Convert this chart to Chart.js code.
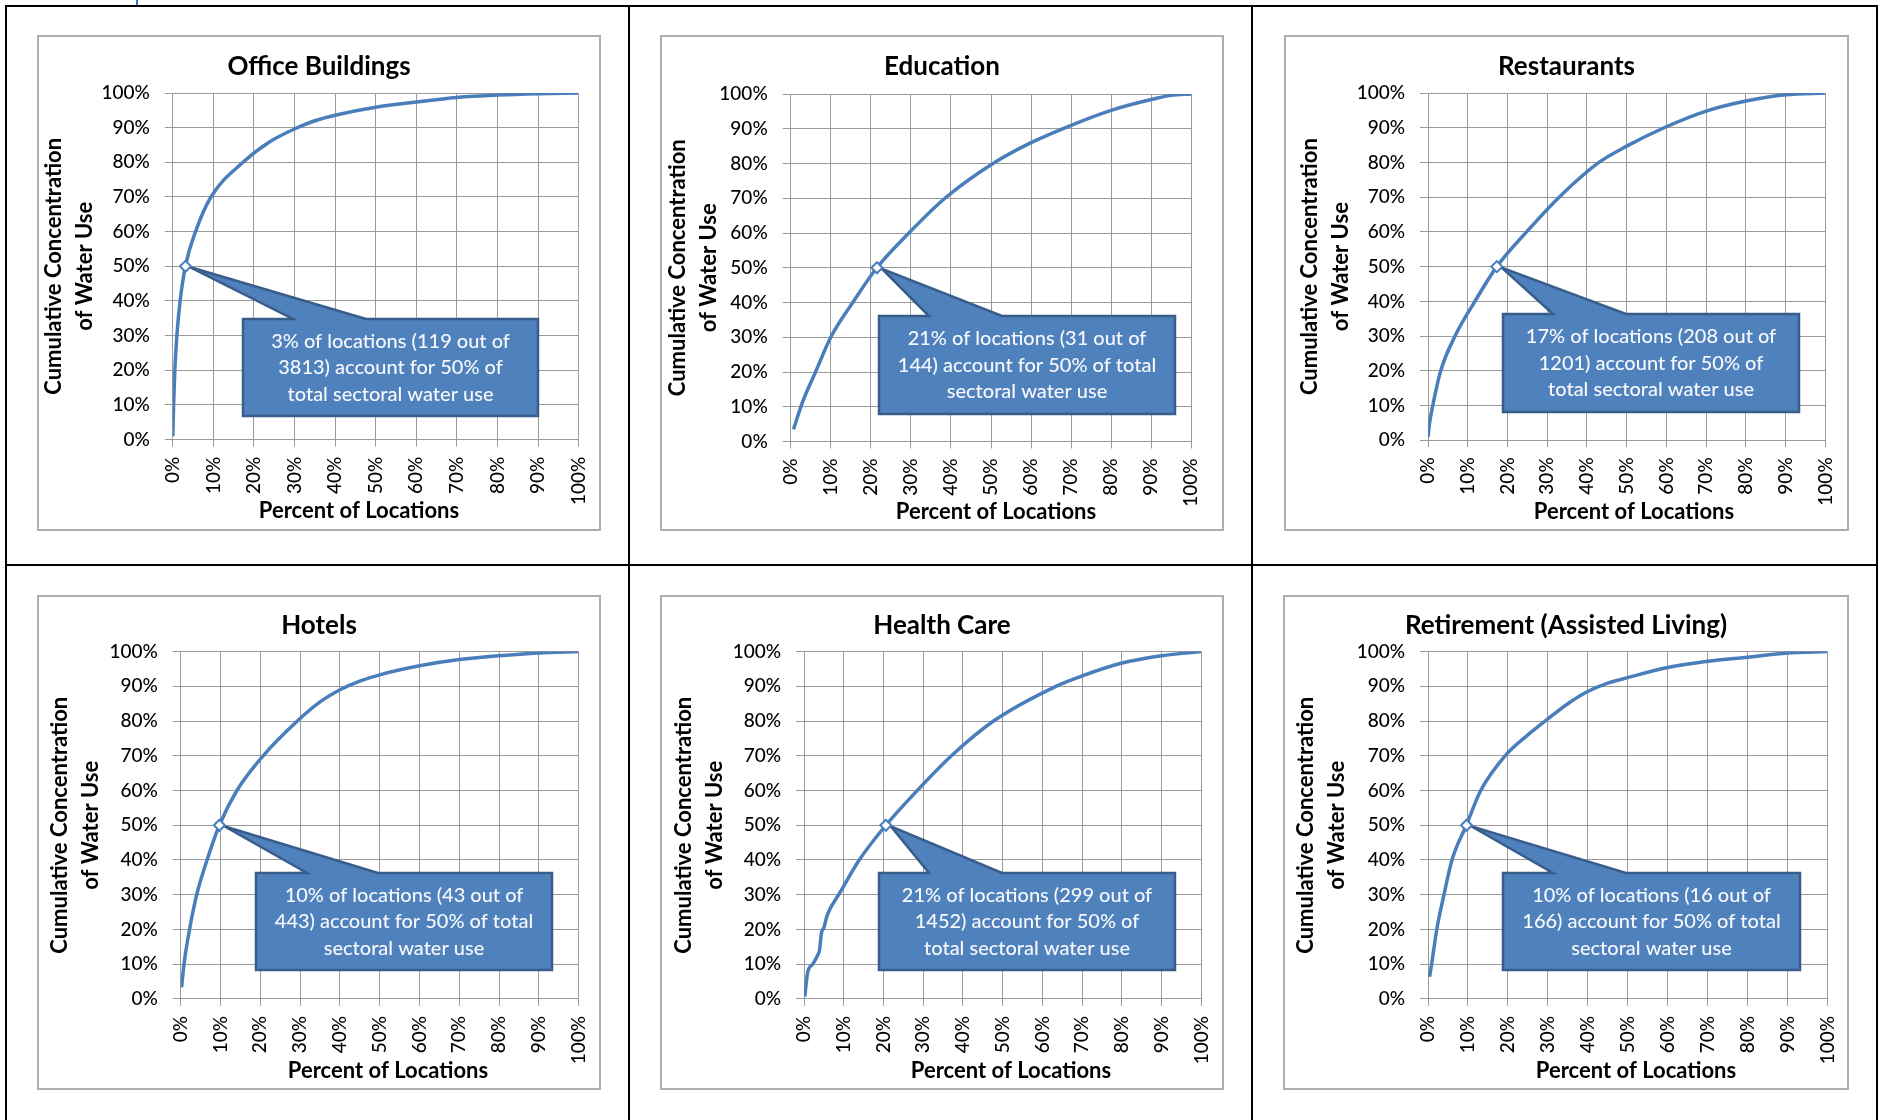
<!DOCTYPE html>
<html>
<head>
<meta charset="utf-8">
<title>Cumulative concentration of water use by sector</title>
<script src="https://cdn.jsdelivr.net/npm/chart.js@4.4.1/dist/chart.umd.min.js"></script>
<style>
  html, body { margin: 0; padding: 0; background: #fff; }
  body { width: 1879px; height: 1120px; position: relative; overflow: hidden; font-family: Lato, sans-serif; }
  .rule { position: absolute; background: #000; }
  .frame { position: absolute; box-sizing: border-box; border: 2px solid #adadad; pointer-events: none; }
  canvas { position: absolute; }
</style>
</head>
<body>
<div class="rule" style="left:136px;top:0;width:2px;height:5px;background:#2a7ad4"></div>
<div class="rule" style="left:5px;top:5px;width:1873px;height:2px"></div>
<div class="rule" style="left:5px;top:5px;width:2px;height:1115px"></div>
<div class="rule" style="left:628px;top:5px;width:2px;height:1115px"></div>
<div class="rule" style="left:1251px;top:5px;width:2px;height:1115px"></div>
<div class="rule" style="left:1876px;top:5px;width:2px;height:1115px"></div>
<div class="rule" style="left:5px;top:564px;width:1873px;height:2px"></div>
<script>
// Sector names (one chart each)
const sectorTitles = ['Office Buildings', 'Education', 'Restaurants', 'Hotels', 'Health Care', 'Retirement (Assisted Living)'];

// Cumulative share of sector water use (%) against share of locations (%), largest users first
const officeX  = [0, 0.2, 0.5, 1.0, 1.8, 3.1, 5.6, 9.4, 17.3, 24, 30.7, 35, 40, 50, 60, 70, 80, 90, 100];
const officeY  = [1, 10, 20, 30, 40, 50, 60, 70, 80, 86, 90, 92, 93.6, 95.9, 97.4, 98.7, 99.4, 99.8, 100];

const eduX     = [0.7, 3, 6.2, 10, 15.5, 21.5, 29.5, 38.5, 50.5, 60, 70, 80, 90, 95, 100];
const eduY     = [3.5, 11.5, 20, 30, 40, 50, 60, 70, 80, 86, 91, 95.3, 98.4, 99.6, 100];

const restX    = [0, 0.4, 1.2, 3.2, 6.8, 11.8, 17.3, 24.8, 33, 43, 50, 59.4, 70, 80, 90, 100];
const restY    = [1, 5, 10, 20, 30, 40, 50, 60, 70, 80, 84.7, 90, 94.8, 97.7, 99.5, 100];

const hotelX   = [0.2, 0.8, 2.2, 4.0, 6.6, 9.7, 14.1, 20.7, 29.3, 35, 40, 45, 50, 60, 70, 80, 90, 100];
const hotelY   = [3.3, 10, 20, 30, 40, 50, 60, 70, 80, 85.5, 89, 91.5, 93.3, 95.9, 97.7, 98.8, 99.6, 100];

const healthX  = [0.2, 0.9, 2.2, 3.4, 3.9, 4.4, 5.0, 5.8, 9.0, 13.9, 20.6, 28.5, 37.1, 47.7, 63.4, 70, 80, 90, 100];
const healthY  = [0.7, 7.5, 10, 12.5, 14, 19, 20.5, 24, 30.5, 40, 50, 60, 70, 80, 90, 93, 96.7, 98.8, 100];

const retireX  = [0.4, 0.9, 2.2, 4.0, 6.0, 9.6, 13.2, 19.3, 25, 30, 35, 40, 45, 50, 60, 70, 80, 90, 100];
const retireY  = [6.4, 10, 20, 30, 40, 50, 60, 70, 76, 80.6, 85, 88.5, 90.9, 92.5, 95.4, 97.2, 98.4, 99.6, 100];

const seriesX = [officeX, eduX, restX, hotelX, healthX, retireX];
const seriesY = [officeY, eduY, restY, hotelY, healthY, retireY];

// Locations that together account for half of each sector's water use
const halfCounts   = [119, 31, 208, 43, 299, 16];
const sectorTotals = [3813, 144, 1201, 443, 1452, 166];
const halfSharePct = [3, 21, 17, 10, 21, 10];
const halfWaterPct = 50;

// Page placement of each panel: chart frame, plot area, captions, callout box and its wedge (px)
const panels = [
  { box: [37, 35, 601, 531],     plot: [172.8, 93, 578.6, 439.6],    titleY: 32, yTitlePad: 1.5, xTitle: [359, 511],
    callout: [243, 319, 538, 416],   wedge: [293, 366] },
  { box: [660, 35, 1224, 531],   plot: [790.7, 94, 1191.3, 441.5],   titleY: 32, yTitlePad: 2,   xTitle: [996, 512],
    callout: [879, 316, 1175, 414],  wedge: [929, 1002] },
  { box: [1284, 35, 1849, 531],  plot: [1428, 93, 1825.4, 440.3],    titleY: 32, yTitlePad: 10,  xTitle: [1634, 512],
    callout: [1503, 314, 1799, 412], wedge: [1553, 1626] },
  { box: [37, 595, 601, 1090],   plot: [180.8, 651.6, 578.6, 998.9], titleY: 31, yTitlePad: 7.5, xTitle: [388, 1071],
    callout: [256, 873, 552, 970],   wedge: [307, 378] },
  { box: [660, 595, 1224, 1090], plot: [804, 651.6, 1201.4, 998.9],  titleY: 31, yTitlePad: 8.5, xTitle: [1011, 1071],
    callout: [879, 873, 1175, 970],  wedge: [929, 1002] },
  { box: [1283, 595, 1849, 1090],plot: [1428, 651.6, 1827.4, 998.9], titleY: 31, yTitlePad: 7.5, xTitle: [1636, 1071],
    callout: [1503, 873, 1800, 970], wedge: [1553, 1626] }
];

const FONT = 'Lato';
const LINE_BLUE = '#4a7ebb';
const GRID = '#9a9a9a';

function wrapWords(ctx, text, maxWidth) {
  const words = text.split(' ');
  const lines = [];
  let cur = '';
  for (const w of words) {
    const trial = cur ? cur + ' ' + w : w;
    if (cur && ctx.measureText(trial).width > maxWidth) {
      lines.push(cur);
      cur = w;
    } else {
      cur = trial;
    }
  }
  if (cur) lines.push(cur);
  return lines;
}

// Callout box with a wedge pointing at the half-of-use point
const calloutPlugin = {
  id: 'halfCallout',
  afterDatasetDraw(chart, args, opts) {
    if (args.index !== 1) return;
    const ctx = chart.ctx;
    const xs = chart.scales.x, ys = chart.scales.y;
    const tipX = xs.getPixelForValue(opts.pointX) + 5;
    const tipY = ys.getPixelForValue(opts.pointY) + 1;
    const [l, t, r, b] = opts.rect;
    const [w1, w2] = opts.wedge;
    ctx.save();
    ctx.beginPath();
    ctx.moveTo(l, t);
    ctx.lineTo(w1, t);
    ctx.lineTo(tipX, tipY);
    ctx.lineTo(w2, t);
    ctx.lineTo(r, t);
    ctx.lineTo(r, b);
    ctx.lineTo(l, b);
    ctx.closePath();
    ctx.fillStyle = '#4f81bd';
    ctx.fill();
    ctx.lineWidth = 2.5;
    ctx.lineJoin = 'miter';
    ctx.strokeStyle = '#385d8a';
    ctx.stroke();

    ctx.font = '500 20px ' + FONT;
    ctx.fillStyle = '#f6f8fb';
    ctx.textAlign = 'center';
    ctx.textBaseline = 'middle';
    const lines = wrapWords(ctx, opts.text, (r - l) - 34);
    const lh = 26.5;
    const cx = (l + r) / 2;
    const cy = (t + b) / 2 + 0.5;
    lines.forEach((s, k) => ctx.fillText(s, cx, cy + (k - (lines.length - 1) / 2) * lh));
    ctx.restore();
  }
};

// Horizontal axis caption
const xCaptionPlugin = {
  id: 'xCaption',
  afterDraw(chart, args, opts) {
    const ctx = chart.ctx;
    ctx.save();
    ctx.font = 'bold 22px ' + FONT;
    ctx.fillStyle = '#000';
    ctx.textAlign = 'center';
    ctx.textBaseline = 'middle';
    ctx.fillText(opts.text, opts.x, opts.y);
    ctx.restore();
  }
};

function buildPanel(i) {
  const p = panels[i];
  const [bl, bt, br, bb] = p.box;
  const w = br - bl, h = bb - bt;
  const canvas = document.createElement('canvas');
  canvas.width = w; canvas.height = h;
  canvas.style.left = bl + 'px'; canvas.style.top = bt + 'px';
  canvas.style.width = w + 'px'; canvas.style.height = h + 'px';
  document.body.appendChild(canvas);
  const frame = document.createElement('div');
  frame.className = 'frame';
  frame.style.left = bl + 'px'; frame.style.top = bt + 'px';
  frame.style.width = w + 'px'; frame.style.height = h + 'px';
  document.body.appendChild(frame);

  const plotL = p.plot[0] - bl, plotT = p.plot[1] - bt, plotR = p.plot[2] - bl, plotB = p.plot[3] - bt;
  const titleSize = 26, titleLH = titleSize * 1.2;
  const titlePadTop = p.titleY - titleLH / 2;
  const titlePadBottom = plotT - titlePadTop - titleLH;

  const pts = seriesX[i].map((x, k) => ({ x: x, y: seriesY[i][k] }));
  const markX = halfCounts[i] / sectorTotals[i] * 100;
  const text = halfSharePct[i] + '% of locations (' + halfCounts[i] + ' out of ' + sectorTotals[i] +
               ') account for ' + halfWaterPct + '% of total sectoral water use';
  const c = p.callout;

  const tickFont = { family: FONT, size: 19, weight: '500' };

  new Chart(canvas, {
    type: 'scatter',
    data: {
      datasets: [
        {
          data: [{ x: markX, y: halfWaterPct }],
          pointStyle: 'rectRot', pointRadius: 5.5,
          pointBackgroundColor: '#ffffff', pointBorderColor: LINE_BLUE, pointBorderWidth: 2,
          showLine: false
        },
        {
          data: pts, showLine: true, borderColor: LINE_BLUE, borderWidth: 3.5,
          pointRadius: 0, cubicInterpolationMode: 'monotone', fill: false
        }
      ]
    },
    options: {
      responsive: false, animation: false, devicePixelRatio: 1,
      events: [],
      layout: { padding: 0 },
      plugins: {
        legend: { display: false },
        tooltip: { enabled: false },
        title: {
          display: true, text: sectorTitles[i], color: '#000',
          font: { family: FONT, size: titleSize, weight: 'bold', lineHeight: 1.2 },
          padding: { top: titlePadTop, bottom: titlePadBottom }
        },
        halfCallout: {
          pointX: markX, pointY: halfWaterPct,
          rect: [c[0] - bl, c[1] - bt, c[2] - bl, c[3] - bt],
          wedge: [p.wedge[0] - bl, p.wedge[1] - bl],
          text: text
        },
        xCaption: { text: 'Percent of Locations', x: p.xTitle[0] - bl, y: p.xTitle[1] - bt }
      },
      scales: {
        x: {
          type: 'linear', min: 0, max: 100,
          ticks: { stepSize: 10, autoSkip: false, minRotation: 90, maxRotation: 90, padding: 10,
                   color: '#000', font: tickFont, callback: v => v + '%' },
          grid: { color: GRID, lineWidth: 1, tickLength: 7 },
          border: { color: GRID },
          afterFit: s => { s.height = h - plotB; s.paddingLeft = 0; s.paddingRight = w - plotR; }
        },
        y: {
          type: 'linear', min: 0, max: 100,
          ticks: { stepSize: 10, padding: 15, color: '#000', font: tickFont, callback: v => v + '%' },
          grid: { color: GRID, lineWidth: 1, tickLength: 8 },
          border: { color: GRID },
          title: { display: true, text: ['Cumulative Concentration', 'of Water Use'], color: '#000',
                   font: { family: FONT, size: 22, weight: 'bold', lineHeight: '31px' },
                   padding: { top: p.yTitlePad, bottom: 0 } },
          afterFit: s => { s.width = plotL; s.paddingTop = 0; s.paddingBottom = 0; }
        }
      }
    },
    plugins: [calloutPlugin, xCaptionPlugin]
  });
}

for (let i = 0; i < panels.length; i++) buildPanel(i);
</script>
</body>
</html>
